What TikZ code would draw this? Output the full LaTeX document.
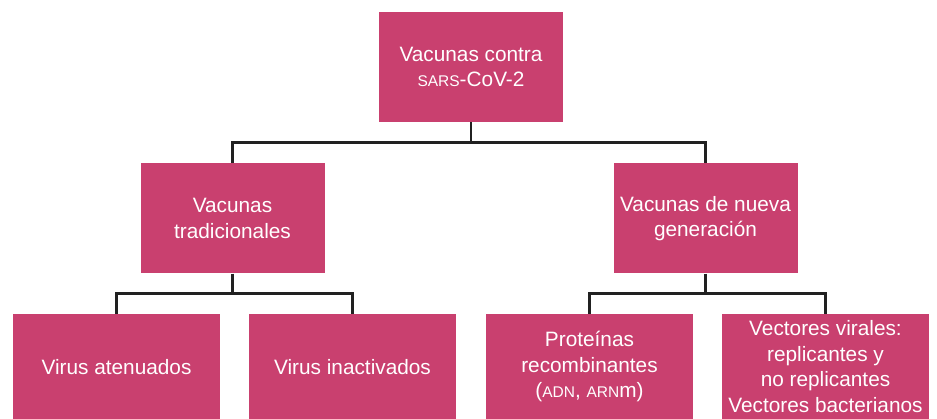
\documentclass[tikz,border=0pt]{standalone}
\usepackage{fontspec}
\setmainfont{Liberation Sans}
\usetikzlibrary{positioning}
\definecolor{vacpink}{HTML}{C9406F}
\newcommand{\fakesc}[1]{{\fontsize{15.5}{15.5}\selectfont #1}}

\begin{document}
\begin{tikzpicture}[x=1pt,y=1pt,every node/.style={align=center,text=white,font=\fontsize{20.8}{25.5}\selectfont},
    box/.style={fill=vacpink,inner sep=2pt,minimum width=184pt,minimum height=110pt},
    leaf/.style={box,minimum width=207pt,minimum height=106pt},
    link/.style={line width=2.5pt,draw=black!87}]
                \useasboundingbox (0,0) rectangle (937,-418);

                \node[box] (top) at (471,-67) {Vacunas contra\\\fakesc{SARS}-CoV-2};
                \node[box,below=41pt of top,xshift=-238.5pt] (trad) {Vacunas\\tradicionales};
                \node[box,below=41pt of top,xshift=234.5pt] (new) {Vacunas de nueva\\generaci\'on};

                \node[leaf,below=40pt of trad,xshift=-116pt] (aten) {Virus atenuados};
                \node[leaf,below=40pt of trad,xshift=120pt] (inac) {Virus inactivados};
                \node[leaf,below=40pt of new,xshift=-116pt] (prot) {Prote\'inas\\recombinantes\\(\fakesc{ADN}, \fakesc{ARN}m)};
                \node[leaf,below=40pt of new,xshift=120pt] (vect) {Vectores virales:\\replicantes y\\no replicantes\\Vectores bacterianos};

                \draw[link] (top.south) -- ++(0,-20.5);
                \draw[link] (trad.north) -- ++(0,20.5) -| (new.north);
                \draw[link] (trad.south) -- ++(0,-20);
                \draw[link] (aten.north) -- ++(0,20) -| (inac.north);
                \draw[link] (new.south) -- ++(0,-20);
                \draw[link] (prot.north) -- ++(0,20) -| (vect.north);

\end{tikzpicture}
\end{document}
